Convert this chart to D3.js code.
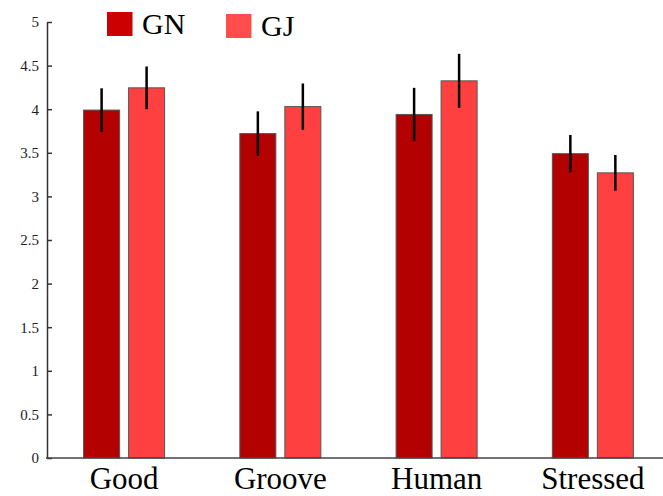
<!DOCTYPE html>
<html>
<head>
<meta charset="utf-8">
<script src="https://cdn.jsdelivr.net/npm/d3@7"></script>
<style>
  html, body { margin: 0; padding: 0; background: #fff; }
  svg { display: block; }
</style>
</head>
<body>
<div id="chart"></div>
<script>
const categories = ["Good", "Groove", "Human", "Stressed"];
const seriesNames = ["GN", "GJ"];
const gnValues = [3.99, 3.72, 3.94, 3.49];
const gjValues = [4.245, 4.03, 4.325, 3.27];
const gnErrors = [0.25, 0.255, 0.305, 0.215];
const gjErrors = [0.245, 0.265, 0.31, 0.205];
const yTicks = [0, 0.5, 1, 1.5, 2, 2.5, 3, 3.5, 4, 4.5, 5];

const barColors = { GN: "#b30000", GJ: "#ff4040" };
const legendColors = { GN: "#cc0000", GJ: "#ff4d4d" };

const W = 663, H = 496;
const svg = d3.select("#chart").append("svg").attr("width", W).attr("height", H);

const serif = "'Liberation Serif', 'Times New Roman', serif";
const y = d3.scaleLinear().domain([0, 5]).range([458, 22]);
const x0 = d3.scaleBand().domain(categories).range([46, 671]).paddingInner(0).paddingOuter(0);
const x1 = d3.scaleBand().domain(seriesNames).range([37.6, 118.6]).paddingInner(0.2).paddingOuter(0);

const rows = categories.map((c, i) => ({
  cat: c,
  vals: [
    { s: "GN", v: gnValues[i], e: gnErrors[i] },
    { s: "GJ", v: gjValues[i], e: gjErrors[i] }
  ]
}));

const groups = svg.selectAll("g.grp").data(rows).join("g")
  .attr("class", "grp")
  .attr("transform", d => `translate(${x0(d.cat)},0)`);

groups.selectAll("rect").data(d => d.vals).join("rect")
  .attr("x", d => x1(d.s))
  .attr("width", x1.bandwidth())
  .attr("y", d => y(d.v))
  .attr("height", d => y(0) - y(d.v))
  .attr("fill", d => barColors[d.s])
  .attr("stroke", "#555")
  .attr("stroke-width", 1);

groups.selectAll("line.err").data(d => d.vals).join("line")
  .attr("class", "err")
  .attr("x1", d => x1(d.s) + x1.bandwidth() / 2)
  .attr("x2", d => x1(d.s) + x1.bandwidth() / 2)
  .attr("y1", d => y(d.v + d.e))
  .attr("y2", d => y(d.v - d.e))
  .attr("stroke", "#000")
  .attr("stroke-width", 2.5);

// Y axis
const yAxis = d3.axisLeft(y).tickValues(yTicks).tickFormat(d => String(d))
  .tickSizeInner(-5).tickSizeOuter(0).tickPadding(8);
const yg = svg.append("g").attr("transform", "translate(47,0)").call(yAxis)
  .attr("font-family", serif);
yg.select(".domain").attr("stroke", "#333").attr("stroke-width", 1.5);
yg.selectAll(".tick line").attr("stroke", "#333").attr("stroke-width", 1.5);
yg.selectAll(".tick text")
  .style("font-family", serif)
  .attr("font-size", 15)
  .attr("fill", "#222");

// X axis line and category labels
const xAxis = d3.axisBottom(x0).tickSize(0).tickPadding(9);
const xg = svg.append("g").attr("transform", "translate(0,458)").call(xAxis)
  .attr("font-family", serif);
xg.select(".domain").attr("stroke", "#444").attr("stroke-width", 1.5)
  .attr("d", "M46,0H663");
xg.selectAll(".tick text")
  .style("font-family", serif)
  .attr("font-size", 31)
  .attr("fill", "#000");

// Legend
const legendX = [107, 226];
const lg = svg.selectAll("g.leg").data(seriesNames).join("g")
  .attr("class", "leg")
  .attr("transform", (d, i) => `translate(${legendX[i]},${i === 0 ? 12 : 14})`);
lg.append("rect").attr("width", 25.5).attr("height", 24)
  .attr("fill", d => legendColors[d]);
lg.append("text").attr("x", 35).attr("y", 22)
  .style("font-family", serif)
  .attr("font-size", 30)
  .attr("fill", "#000")
  .text(d => d);
</script>
</body>
</html>
